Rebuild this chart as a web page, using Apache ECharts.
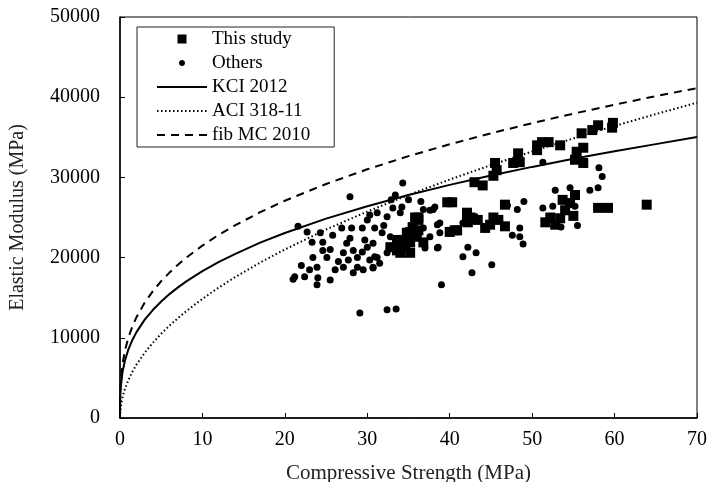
<!DOCTYPE html>
<html>
<head>
<meta charset="utf-8">
<script src="https://cdn.jsdelivr.net/npm/echarts@6/dist/echarts.min.js"></script>
<style>
  html, body { margin: 0; padding: 0; background: #fff; }
  #chart { width: 709px; height: 482px; }
</style>
</head>
<body>
<div id="chart"></div>
<script>
// 数据
const seriesNames = ['This study', 'Others', 'KCI 2012', 'ACI 318-11', 'fib MC 2010'];

const thisStudy = [
  [32.8, 21300], [33.6, 20900], [34.3, 21300], [35.2, 21900], [36.0, 22600], [34.8, 23100],
  [35.5, 23800], [36.2, 24700], [33.6, 22200], [34.0, 20600], [35.2, 20600], [36.2, 25000],
  [34.3, 22200], [35.2, 23200], [33.7, 21200], [35.8, 25000], [36.2, 23400], [35.4, 22800],
  [34.6, 21800], [36.8, 21900], [39.7, 26900], [40.3, 26900], [43.0, 29400], [44.0, 29000],
  [45.5, 31800], [45.7, 30900], [45.3, 30200], [48.3, 33000], [48.5, 31900], [47.7, 31800],
  [50.6, 34000], [51.2, 34400], [52.0, 34400], [50.6, 33400], [53.4, 34000], [56.0, 35500],
  [57.3, 35900], [58.0, 36500], [59.8, 36800], [59.7, 36200], [56.2, 33700], [55.4, 33200],
  [55.2, 32200], [56.2, 31800], [53.7, 27200], [54.0, 25900], [53.4, 24900], [51.6, 24400],
  [52.8, 24100], [58.0, 26200], [59.2, 26200], [63.9, 26600], [46.7, 26600], [42.1, 25300],
  [42.2, 24400], [42.8, 24900], [43.4, 24700], [44.3, 23700], [44.9, 24100], [45.3, 25000],
  [45.9, 24700], [46.7, 23900], [40.6, 23400], [40.0, 23200], [40.9, 23400], [42.5, 25000],
  [42.1, 25600], [55.0, 25200], [54.6, 26800], [52.2, 25000], [55.2, 27800]
];

const others = [
  [21.6, 23900], [22.7, 23200], [24.3, 23100], [23.3, 21900], [24.6, 21900], [25.8, 22800],
  [26.9, 23700], [28.1, 23700], [29.4, 23700], [27.9, 22400], [24.6, 20900], [25.1, 20000],
  [23.4, 20000], [23.9, 18800], [23.0, 18500], [21.2, 17600], [22.4, 17600], [23.9, 16600],
  [25.5, 17200], [26.1, 18500], [27.1, 18800], [27.7, 19700], [28.8, 20000], [27.1, 20600],
  [28.3, 20900], [29.4, 20700], [30.0, 21300], [28.3, 18100], [29.5, 18500], [30.7, 18700],
  [30.3, 19700], [31.2, 20000], [30.0, 24700], [30.3, 25300], [31.2, 25600], [32.4, 25100],
  [30.9, 23700], [31.8, 23100], [32.8, 22600], [33.1, 26200], [34.2, 26300], [32.9, 27200],
  [34.0, 25600], [32.4, 20600], [31.5, 19300], [29.7, 22200], [30.7, 21800], [28.8, 18800],
  [34.3, 29300], [27.9, 27600], [33.4, 27800], [29.1, 13100], [32.4, 13500], [33.5, 13600],
  [36.8, 23700], [37.6, 22600], [38.5, 21200], [37.0, 21200], [38.8, 24300], [38.2, 26300],
  [37.6, 25900], [30.9, 20100], [30.7, 18800], [36.8, 26000], [38.0, 26000], [38.5, 24100],
  [38.8, 23100], [38.6, 21300], [42.2, 21300], [41.6, 24300], [48.5, 23700], [47.6, 22800],
  [48.5, 22600], [48.9, 21700], [41.6, 20100], [43.2, 20600], [45.1, 19100], [42.7, 18100],
  [39.0, 16600], [51.3, 31900], [58.1, 31200], [58.5, 30100], [52.8, 28400], [54.6, 28700],
  [57.0, 28400], [58.0, 28700], [52.5, 26400], [55.2, 26400], [51.3, 26200], [21.0, 17300],
  [22.0, 19000], [24.0, 17500], [26.5, 19500], [25.5, 21000], [27.5, 21800], [32.0, 24000],
  [35.0, 27200], [36.5, 27000], [47.0, 26500], [49.0, 27000], [53.5, 23800], [55.5, 24000],
  [48.2, 26000]
];

// curves, sampled along x
const curveX = [0, 0.02, 0.1, 0.3, 0.6, 1, 1.5, 2, 3, 4, 5, 6, 7, 8, 10, 12, 14, 17, 20,
  25, 30, 35, 40, 45, 50, 55, 60, 65, 70];
const kciY = [0, 2310, 3950, 5690, 7170, 8500, 9730, 10710, 12260, 13490, 14530, 15450, 16260,
  17000, 18310, 19460, 20470, 21870, 23070, 24860, 26410, 27800, 29070, 30230, 31310, 32320,
  33260, 34150, 35030];
const aciY = [0, 660, 1490, 2570, 3640, 4700, 5760, 6650, 8140, 9400, 10510, 11510, 12430,
  13290, 14860, 16280, 17590, 19380, 21020, 23500, 25740, 27810, 29730, 31530, 33230, 34860,
  36410, 37890, 39320];
const fibY = [0, 2710, 4630, 6680, 8420, 9980, 11420, 12570, 14390, 15840, 17060, 18130, 19090,
  19960, 21500, 22850, 24040, 25660, 27090, 29180, 31010, 32650, 34130, 35500, 36760, 37950,
  39070, 40130, 41130];

const xTicks = { min: 0, max: 70, interval: 10 };
const yTicks = { min: 0, max: 50000, interval: 10000 };

function pairs(xs, ys) {
  let out = [];
  for (let i = 0; i < xs.length; i++) {
    out.push([xs[i], ys[i]]);
  }
  return out;
}

let font = 'Liberation Serif';
let chart = echarts.init(document.getElementById('chart'));

function lineSeries(name, ys, type) {
  return {
    name: name,
    type: 'line',
    data: pairs(curveX, ys),
    showSymbol: false,
    symbol: 'none',
    smooth: false,
    itemStyle: { color: '#000' },
    lineStyle: { color: '#000', width: 2, type: type },
    z: 1,
    silent: true
  };
}

// 图例里的线条不要圆点
let hideDot = { opacity: 0 };

let option = {
  animation: false,
  backgroundColor: '#fff',
  grid: {
    left: 120, right: 12, top: 17, bottom: 64,
    outerBoundsMode: 'none',
    containLabel: false,
    show: true, borderColor: '#000', borderWidth: 1
  },
  legend: {
    orient: 'vertical',
    left: 137, top: 27,
    padding: [1, 24, 1, 19],
    borderColor: '#222', borderWidth: 1,
    itemWidth: 50, itemHeight: 9, itemGap: 2,
    textStyle: { fontFamily: font, fontSize: 19, lineHeight: 22, color: '#000' },
    data: [
      { name: 'This study', icon: 'path://M0,0H1V1H0Z', itemStyle: { opacity: 1 } },
      { name: 'Others', icon: 'path://M0,0M9,9M4.5,1.5C6.2,1.5 7.5,2.8 7.5,4.5C7.5,6.2 6.2,7.5 4.5,7.5C2.8,7.5 1.5,6.2 1.5,4.5C1.5,2.8 2.8,1.5 4.5,1.5Z', itemStyle: { opacity: 1 } },
      { name: 'KCI 2012', itemStyle: hideDot },
      { name: 'ACI 318-11', itemStyle: hideDot },
      { name: 'fib MC 2010', itemStyle: hideDot }
    ]
  },
  xAxis: {
    type: 'value',
    min: xTicks.min, max: xTicks.max, interval: xTicks.interval,
    name: 'Compressive Strength (MPa)',
    nameLocation: 'middle', nameGap: 45,
    nameTextStyle: { fontFamily: font, fontSize: 21, color: '#222' },
    axisLine: { lineStyle: { color: '#000', width: 1.5 } },
    axisTick: { inside: true, length: 5, lineStyle: { color: '#000' } },
    axisLabel: { fontFamily: font, fontSize: 20, color: '#000', margin: 12, formatter: v => String(v) },
    splitLine: { show: false }
  },
  yAxis: {
    type: 'value',
    min: yTicks.min, max: yTicks.max, interval: yTicks.interval,
    name: 'Elastic Modulus (MPa)',
    nameLocation: 'middle', nameGap: 92,
    nameTextStyle: { fontFamily: font, fontSize: 20, color: '#222' },
    axisLine: { lineStyle: { color: '#000', width: 1.5 } },
    axisTick: { inside: true, length: 5, lineStyle: { color: '#000' } },
    axisLabel: { fontFamily: font, fontSize: 20, color: '#000', margin: 20, formatter: v => String(v) },
    splitLine: { show: false }
  },
  series: [
    {
      name: seriesNames[0], type: 'scatter', symbol: 'rect', symbolSize: 10,
      itemStyle: { color: '#000', opacity: 1 }, data: thisStudy, z: 3
    },
    {
      name: seriesNames[1], type: 'scatter', symbol: 'circle', symbolSize: 7,
      itemStyle: { color: '#000', opacity: 1 }, data: others, z: 2
    },
    lineSeries(seriesNames[2], kciY, 'solid'),
    lineSeries(seriesNames[3], aciY, [1.5, 2.5]),
    lineSeries(seriesNames[4], fibY, [8, 6])
  ]
};

chart.setOption(option);
</script>
</body>
</html>
